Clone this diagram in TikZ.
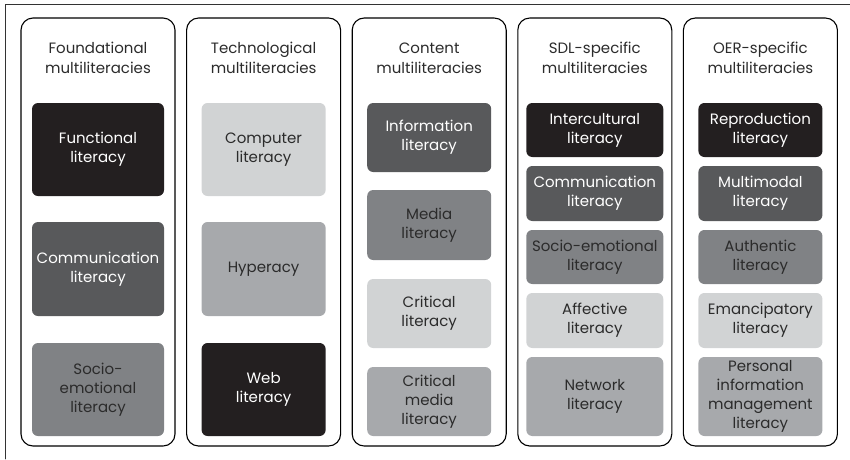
\documentclass[tikz,border=0pt]{standalone}
\usepackage{fontspec}
\setmainfont{Poppins}
\usepackage{tikz}
\usetikzlibrary{positioning}

\definecolor{boxblack}{HTML}{231F20}
\definecolor{boxdark}{HTML}{58595B}
\definecolor{boxmid}{HTML}{808285}
\definecolor{boxpale}{HTML}{A7A9AC}
\definecolor{boxlight}{HTML}{D1D3D4}
\definecolor{textdark}{HTML}{2B2B2B}

\begin{document}
\begin{tikzpicture}
		[x=1pt,y=-1pt,line cap=round,
		%Styles
		column/.style={draw=black,line width=1.1pt,rounded corners=12pt,minimum width=154pt,minimum height=428pt,inner sep=0pt},
		title text/.style={align=center,text=textdark,font=\fontsize{15}{20}\selectfont},
		lit/.style={rounded corners=6pt,inner sep=2pt,align=center,minimum width=#1,font=\fontsize{15}{19}\selectfont},
		black box/.style={fill=boxblack,text=white},
		dark box/.style={fill=boxdark,text=white},
		mid box/.style={fill=boxmid,text=textdark},
		pale box/.style={fill=boxpale,text=textdark},
		light box/.style={fill=boxlight,text=textdark}
		]
		
		\useasboundingbox (0,0) rectangle (850,459);
		
		%Frame
		\draw[line width=0.9pt,black!80] (5,459) -- (5,4) -- (850,4);
		
		%The columns
		\node[column] (F) at (98,232) {};
		\node[column] (T) at (263.6,232) {};
		\node[column] (C) at (429.2,232) {};
		\node[column] (S) at (594.8,232) {};
		\node[column] (O) at (760.4,232) {};
		
		\node[title text] (Ft) at (98,58) {Foundational\\multiliteracies};
		\node[title text] (Tt) at (263.6,58) {Technological\\multiliteracies};
		\node[title text] (Ct) at (429.2,58) {Content\\multiliteracies};
		\node[title text] (St) at (594.8,58) {SDL-specific\\multiliteracies};
		\node[title text] (Ot) at (760.4,58) {OER-specific\\multiliteracies};
		
		%Foundational
		\node[lit=132pt,black box,minimum height=93pt] (F1) at (98,149.5) {Functional\\literacy};
		\node[lit=132pt,dark box,minimum height=94pt] (F2) at (98,269) {Communication\\literacy};
		\node[lit=132pt,mid box,minimum height=93pt] (F3) at (98,389.5) {Socio-\\emotional\\literacy};
		
		%Technological
		\node[lit=124pt,light box,minimum height=93pt] (T1) at (263.6,149.5) {Computer\\literacy};
		\node[lit=124pt,pale box,minimum height=94pt] (T2) at (263.6,269) {Hyperacy};
		\node[lit=124pt,black box,minimum height=93pt] (T3) at (263.6,389.5) {Web\\literacy};
		
		%Content
		\node[lit=124pt,dark box,minimum height=69pt] (C1) at (429.2,137.5) {Information\\literacy};
		\node[lit=124pt,mid box,minimum height=70pt] (C2) at (429.2,225) {Media\\literacy};
		\node[lit=124pt,light box,minimum height=69pt] (C3) at (429.2,313.5) {Critical\\literacy};
		\node[lit=124pt,pale box,minimum height=69pt] (C4) at (429.2,401.5) {Critical\\media\\literacy};
		
		%SDL-specific
		\node[lit=137pt,black box,minimum height=54pt] (S1) at (594.8,130) {Intercultural\\literacy};
		\node[lit=137pt,dark box,minimum height=55pt] (S2) at (594.8,193.5) {Communication\\literacy};
		\node[lit=137pt,mid box,minimum height=54pt] (S3) at (594.8,257) {Socio-emotional\\literacy};
		\node[lit=137pt,light box,minimum height=55pt] (S4) at (594.8,320.5) {Affective\\literacy};
		\node[lit=137pt,pale box,minimum height=79pt] (S5) at (594.8,396.5) {Network\\literacy};
		
		%OER-specific
		\node[lit=124pt,black box,minimum height=54pt] (O1) at (760.4,130) {Reproduction\\literacy};
		\node[lit=124pt,dark box,minimum height=55pt] (O2) at (760.4,193.5) {Multimodal\\literacy};
		\node[lit=124pt,mid box,minimum height=54pt] (O3) at (760.4,257) {Authentic\\literacy};
		\node[lit=124pt,light box,minimum height=55pt] (O4) at (760.4,320.5) {Emancipatory\\literacy};
		\node[lit=124pt,pale box,minimum height=79pt] (O5) at (760.4,396.5) {Personal\\information\\management\\literacy};
	\end{tikzpicture}
\end{document}
